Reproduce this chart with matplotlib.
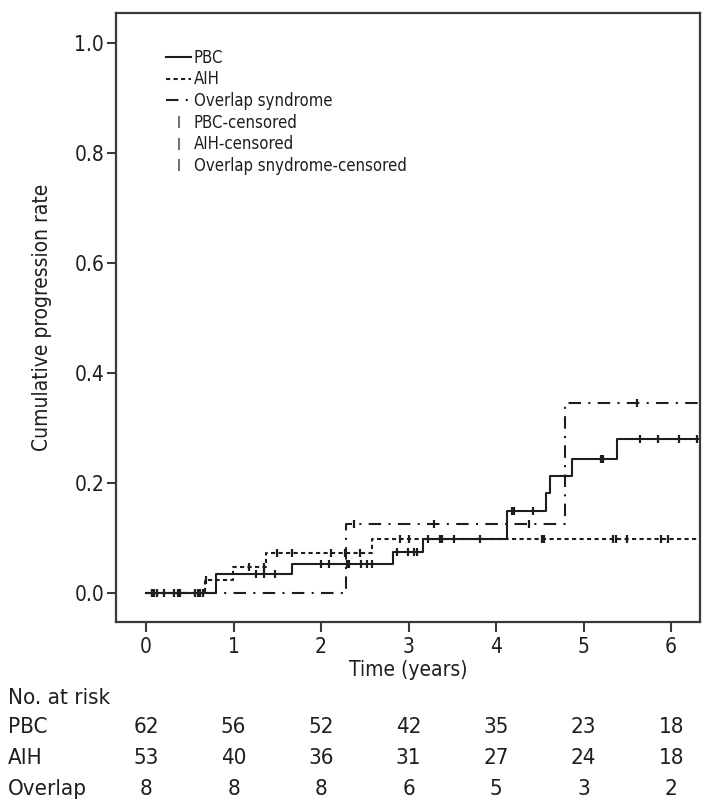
import numpy as np
import matplotlib
matplotlib.use("Agg")
import matplotlib.pyplot as plt
from matplotlib import font_manager
from matplotlib.lines import Line2D
import matplotlib.transforms as mtransforms

# ---------------- data ----------------
pbc_times = [0.0, 0.80, 1.665, 2.82, 3.16, 4.12, 4.57, 4.62, 4.87, 5.38]
pbc_rates = [0.0, 0.034, 0.053, 0.075, 0.098, 0.150, 0.182, 0.213, 0.244, 0.280]
aih_times = [0.0, 0.67, 0.99, 1.37, 2.58]
aih_rates = [0.0, 0.024, 0.048, 0.072, 0.098]
ovl_times = [0.0, 2.29, 4.79]
ovl_rates = [0.0, 0.125, 0.345]
follow_end = 6.32

pbc_censored = [0.065, 0.09, 0.12, 0.20, 0.32, 0.39, 0.56, 0.62,
                1.26, 1.35, 1.47, 2.00, 2.09, 2.30, 2.32, 2.46, 2.52, 2.58,
                2.87, 2.99, 3.06, 3.10, 3.22, 3.36, 3.38, 3.52, 3.82,
                4.18, 4.20, 4.42, 5.20, 5.22, 5.65, 5.85, 6.09, 6.30]
aih_censored = [0.07, 0.36, 0.59, 0.65, 0.69, 1.18, 1.35, 1.50, 1.67, 2.11,
                2.27, 2.45, 2.90, 3.00, 4.52, 4.55, 5.34, 5.37, 5.50, 5.89, 5.97]
ovl_censored = [2.38, 3.29, 4.38, 5.61]

risk_times = [0, 1, 2, 3, 4, 5, 6]
risk_groups = ["PBC", "AIH", "Overlap"]
risk_pbc = [62, 56, 52, 42, 35, 23, 18]
risk_aih = [53, 40, 36, 31, 27, 24, 18]
risk_ovl = [8, 8, 8, 6, 5, 3, 2]

legend_labels = ["PBC", "AIH", "Overlap syndrome", "PBC-censored",
                 "AIH-censored", "Overlap snydrome-censored"]

# ---------------- fonts ----------------
names = {f.name for f in font_manager.fontManager.ttflist}
stretch = "normal"
if "Liberation Sans Narrow" in names:
    fam = ["Liberation Sans Narrow", "DejaVu Sans"]
else:
    cond = [f for f in font_manager.fontManager.ttflist
            if f.name == "DejaVu Sans" and str(f.stretch) in ("condensed", "semi-condensed")]
    fam = ["DejaVu Sans"]
    if cond:
        stretch = "condensed"
plt.rcParams["font.family"] = fam
plt.rcParams["font.stretch"] = stretch

ink = "#1e1e1e"
frame = "#3a3a3a"

fig = plt.figure(figsize=(7.07, 8.09), dpi=100)
W, H = 707, 809
ax = fig.add_axes([116 / W, 1 - 622 / H, 584 / W, 609 / H])

def extend(t, r):
    return np.array(list(t) + [follow_end]), np.array(list(r) + [r[-1]])

def level_at(t, r, c):
    idx = np.searchsorted(np.array(t), np.array(c), side="right") - 1
    return np.array(r)[idx]

aih_ls = (0, (2.0, 1.6))
ovl_ls = (0, (6, 3.5, 1, 3.5))
styles = {"pbc": dict(ls="-"), "aih": dict(ls=aih_ls), "ovl": dict(ls=ovl_ls)}
lw = 1.5
for key, t, r, c in [("pbc", pbc_times, pbc_rates, pbc_censored),
                     ("aih", aih_times, aih_rates, aih_censored),
                     ("ovl", ovl_times, ovl_rates, ovl_censored)]:
    tt, rr = extend(t, r)
    ax.step(tt, rr, where="post", color=ink, lw=lw, **styles[key])
    ax.plot(c, level_at(t, r, c), ls="none", marker="|", ms=6, mew=1.6, color=ink)

ax.set_xlim(-0.343, 6.33)
ax.set_ylim(-0.0527, 1.0545)
ax.set_xticks(risk_times)
ax.set_yticks([0.0, 0.2, 0.4, 0.6, 0.8, 1.0])
ax.set_yticklabels(["0.0", "0.2", "0.4", "0.6", "0.8", "1.0"])
for s in ax.spines.values():
    s.set_color(frame)
    s.set_linewidth(1.6)
ax.tick_params(axis="both", colors=frame, width=1.5, labelsize=15, labelcolor=ink)
ax.tick_params(axis="x", length=7, pad=4)
ax.tick_params(axis="y", length=6.5, pad=2)
ax.set_xlabel("Time (years)", fontsize=15, color=ink, labelpad=2)
ax.set_ylabel("Cumulative progression rate", fontsize=15, color=ink, labelpad=16)

handles = [
    Line2D([], [], color=ink, lw=lw, ls="-"),
    Line2D([], [], color=ink, lw=lw, ls=aih_ls),
    Line2D([], [], color=ink, lw=lw, ls=ovl_ls),
    Line2D([], [], color="#555555", ls="none", marker="|", ms=8, mew=1.2),
    Line2D([], [], color="#555555", ls="none", marker="|", ms=8, mew=1.2),
    Line2D([], [], color="#555555", ls="none", marker="|", ms=8, mew=1.2),
]
ax.legend(handles, legend_labels, loc="upper left", bbox_to_anchor=(0.072, 0.955),
          frameon=False, fontsize=12, handlelength=1.5, handletextpad=0.15,
          labelspacing=0.22, borderpad=0, labelcolor=ink)

# number at risk table
tr = mtransforms.blended_transform_factory(ax.transData, fig.transFigure)
fs_tab = 16
fig.text(8 / W, 1 - 698 / H, "No. at risk", fontsize=fs_tab, color=ink, va="center", ha="left")
rows_y = [727, 758, 789]
for g, vals, yy in zip(risk_groups, [risk_pbc, risk_aih, risk_ovl], rows_y):
    fig.text(8 / W, 1 - yy / H, g, fontsize=fs_tab, color=ink, va="center", ha="left")
    for t, v in zip(risk_times, vals):
        ax.text(t, 1 - yy / H, str(v), transform=tr, fontsize=fs_tab, color=ink,
                va="center", ha="center", clip_on=False)

fig.savefig("out.png", dpi=100, facecolor="white")
